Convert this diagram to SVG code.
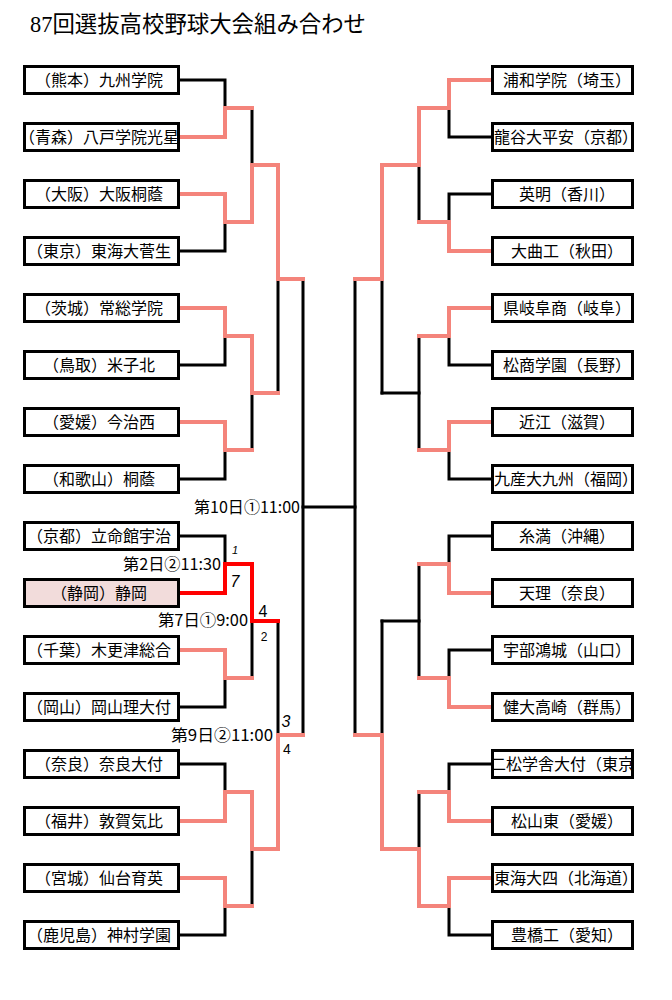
<svg xmlns="http://www.w3.org/2000/svg" width="672" height="1000" viewBox="0 0 672 1000">
<defs>
<style>
.bg{fill:#fff}
.box{fill:#fff;stroke:#000;stroke-width:3}
.hl{fill:#F2DCDB}
.t{font-family:"Noto Sans CJK JP","Noto Sans CJK SC",sans-serif;font-size:16px;fill:#000;text-anchor:middle}
.ln{fill:none;stroke-width:3;stroke-linecap:square;stroke-linejoin:miter}
.k{stroke:#000}
.c{stroke:#F4847B;stroke-width:4}
.r{stroke:#FF0000;stroke-width:4}
.lbl{font-family:"Noto Sans CJK JP",sans-serif;font-size:16px;fill:#000;text-anchor:end}
.sc{font-family:"Liberation Sans",sans-serif;fill:#000;text-anchor:middle}
.title{font-family:"Liberation Serif","Noto Sans CJK JP",serif;font-size:23px;fill:#000}
</style>
<clipPath id="clipL"><rect x="25" y="0" width="154" height="1000"/></clipPath>
<clipPath id="clipR"><rect x="494" y="0" width="139" height="1000"/></clipPath>
</defs>
<rect class="bg" x="0" y="0" width="672" height="1000"/>
<text class="title" x="30" y="32" textLength="336" lengthAdjust="spacingAndGlyphs">87回選抜高校野球大会組み合わせ</text>

<g id="connectors">
<g class="ln k">
<path d="M180,80 H225 V108"/>
<path d="M180,251 H225 V222"/>
<path d="M252,108 V165"/>
<path d="M180,365 H225 V336"/>
<path d="M180,479 H225 V450"/>
<path d="M252,450 V393"/>
<path d="M278,393 V279"/>
<path d="M303,279 V735"/>
<path d="M303,507 H355"/>
<path d="M180,536 H225 V564"/>
<path d="M180,707 H225 V678"/>
<path d="M252,678 V621"/>
<path d="M180,764 H225 V792"/>
<path d="M180,935 H225 V906"/>
<path d="M252,906 V849"/>
<path d="M278,621 V735"/>
<path d="M491,137 H449 V108"/>
<path d="M491,194 H449 V222"/>
<path d="M419,222 V165"/>
<path d="M491,365 H449 V336"/>
<path d="M491,479 H449 V450"/>
<path d="M419,336 V450"/>
<path d="M419,393 H382"/>
<path d="M382,393 V279"/>
<path d="M355,279 V735"/>
<path d="M491,536 H449 V564"/>
<path d="M491,650 H449 V678"/>
<path d="M419,564 V678"/>
<path d="M419,621 H382"/>
<path d="M491,764 H449 V792"/>
<path d="M491,935 H449 V906"/>
<path d="M419,792 V849"/>
<path d="M382,621 V735"/>
</g>
<g class="ln c">
<path d="M180,137 H225 V108 H252"/>
<path d="M180,194 H225 V222 H252"/>
<path d="M252,222 V165 H278"/>
<path d="M180,308 H225 V336 H252"/>
<path d="M180,422 H225 V450 H252"/>
<path d="M252,336 V393 H278"/>
<path d="M278,165 V279 H303"/>
<path d="M180,650 H225 V678 H252"/>
<path d="M180,821 H225 V792 H252"/>
<path d="M180,878 H225 V906 H252"/>
<path d="M252,792 V849 H278"/>
<path d="M278,849 V735 H303"/>
<path d="M491,80 H449 V108 H419"/>
<path d="M491,251 H449 V222 H419"/>
<path d="M419,108 V165 H382"/>
<path d="M491,308 H449 V336 H419"/>
<path d="M491,422 H449 V450 H419"/>
<path d="M382,165 V279 H355"/>
<path d="M491,593 H449 V564 H419"/>
<path d="M491,707 H449 V678 H419"/>
<path d="M491,821 H449 V792 H419"/>
<path d="M491,878 H449 V906 H419"/>
<path d="M419,906 V849 H382"/>
<path d="M382,849 V735 H355"/>
</g>
<g class="ln r">
<path d="M180,593 H225 V564 H252"/>
<path d="M252,564 V621 H278"/>
</g>
</g>

<g id="labels">
<text class="lbl" x="300" y="513" textLength="106" lengthAdjust="spacingAndGlyphs">第10日①11:00</text>
<text class="lbl" x="221" y="570" textLength="98" lengthAdjust="spacingAndGlyphs">第2日②11:30</text>
<text class="lbl" x="248" y="626" textLength="90" lengthAdjust="spacingAndGlyphs">第7日①9:00</text>
<text class="lbl" x="273" y="741" textLength="102" lengthAdjust="spacingAndGlyphs">第9日②11:00</text>
<text class="sc" x="235" y="554" font-size="11" font-style="italic">1</text>
<text class="sc" x="235" y="587" font-size="16" font-style="italic">7</text>
<text class="sc" x="263" y="617" font-size="16">4</text>
<text class="sc" x="264" y="641" font-size="12">2</text>
<text class="sc" x="286" y="727" font-size="16" font-style="italic">3</text>
<text class="sc" x="287" y="754" font-size="14">4</text>
</g>

<g id="L1"><rect class="box" x="24.5" y="66.5" width="154" height="27"/><text class="t" x="99" y="86" clip-path="url(#clipL)">（熊本）九州学院</text></g>
<g id="L2"><rect class="box" x="24.5" y="123.5" width="154" height="27"/><text class="t" x="99" y="143" clip-path="url(#clipL)">（青森）八戸学院光星</text></g>
<g id="L3"><rect class="box" x="24.5" y="180.5" width="154" height="27"/><text class="t" x="99" y="200" clip-path="url(#clipL)">（大阪）大阪桐蔭</text></g>
<g id="L4"><rect class="box" x="24.5" y="237.5" width="154" height="27"/><text class="t" x="99" y="257" clip-path="url(#clipL)">（東京）東海大菅生</text></g>
<g id="L5"><rect class="box" x="24.5" y="294.5" width="154" height="27"/><text class="t" x="99" y="314" clip-path="url(#clipL)">（茨城）常総学院</text></g>
<g id="L6"><rect class="box" x="24.5" y="351.5" width="154" height="27"/><text class="t" x="99" y="371" clip-path="url(#clipL)">（鳥取）米子北</text></g>
<g id="L7"><rect class="box" x="24.5" y="408.5" width="154" height="27"/><text class="t" x="99" y="428" clip-path="url(#clipL)">（愛媛）今治西</text></g>
<g id="L8"><rect class="box" x="24.5" y="465.5" width="154" height="27"/><text class="t" x="99" y="485" clip-path="url(#clipL)">（和歌山）桐蔭</text></g>
<g id="L9"><rect class="box" x="24.5" y="522.5" width="154" height="27"/><text class="t" x="99" y="542" clip-path="url(#clipL)">（京都）立命館宇治</text></g>
<g id="L10"><rect class="box hl" x="24.5" y="579.5" width="154" height="27"/><text class="t" x="99" y="599" clip-path="url(#clipL)">（静岡）静岡</text></g>
<g id="L11"><rect class="box" x="24.5" y="636.5" width="154" height="27"/><text class="t" x="99" y="656" clip-path="url(#clipL)">（千葉）木更津総合</text></g>
<g id="L12"><rect class="box" x="24.5" y="693.5" width="154" height="27"/><text class="t" x="99" y="713" clip-path="url(#clipL)">（岡山）岡山理大付</text></g>
<g id="L13"><rect class="box" x="24.5" y="750.5" width="154" height="27"/><text class="t" x="99" y="770" clip-path="url(#clipL)">（奈良）奈良大付</text></g>
<g id="L14"><rect class="box" x="24.5" y="807.5" width="154" height="27"/><text class="t" x="99" y="827" clip-path="url(#clipL)">（福井）敦賀気比</text></g>
<g id="L15"><rect class="box" x="24.5" y="864.5" width="154" height="27"/><text class="t" x="99" y="884" clip-path="url(#clipL)">（宮城）仙台育英</text></g>
<g id="L16"><rect class="box" x="24.5" y="921.5" width="154" height="27"/><text class="t" x="99" y="941" clip-path="url(#clipL)">（鹿児島）神村学園</text></g>

<g id="R1"><rect class="box" x="492.5" y="66.5" width="140" height="27"/><text class="t" x="567" y="86" clip-path="url(#clipR)">浦和学院（埼玉）</text></g>
<g id="R2"><rect class="box" x="492.5" y="123.5" width="140" height="27"/><text class="t" x="566" y="143" clip-path="url(#clipR)">龍谷大平安（京都）</text></g>
<g id="R3"><rect class="box" x="492.5" y="180.5" width="140" height="27"/><text class="t" x="567" y="200" clip-path="url(#clipR)">英明（香川）</text></g>
<g id="R4"><rect class="box" x="492.5" y="237.5" width="140" height="27"/><text class="t" x="567" y="257" clip-path="url(#clipR)">大曲工（秋田）</text></g>
<g id="R5"><rect class="box" x="492.5" y="294.5" width="140" height="27"/><text class="t" x="567" y="314" clip-path="url(#clipR)">県岐阜商（岐阜）</text></g>
<g id="R6"><rect class="box" x="492.5" y="351.5" width="140" height="27"/><text class="t" x="567" y="371" clip-path="url(#clipR)">松商学園（長野）</text></g>
<g id="R7"><rect class="box" x="492.5" y="408.5" width="140" height="27"/><text class="t" x="567" y="428" clip-path="url(#clipR)">近江（滋賀）</text></g>
<g id="R8"><rect class="box" x="492.5" y="465.5" width="140" height="27"/><text class="t" x="566" y="485" clip-path="url(#clipR)">九産大九州（福岡）</text></g>
<g id="R9"><rect class="box" x="492.5" y="522.5" width="140" height="27"/><text class="t" x="567" y="542" clip-path="url(#clipR)">糸満（沖縄）</text></g>
<g id="R10"><rect class="box" x="492.5" y="579.5" width="140" height="27"/><text class="t" x="567" y="599" clip-path="url(#clipR)">天理（奈良）</text></g>
<g id="R11"><rect class="box" x="492.5" y="636.5" width="140" height="27"/><text class="t" x="567" y="656" clip-path="url(#clipR)">宇部鴻城（山口）</text></g>
<g id="R12"><rect class="box" x="492.5" y="693.5" width="140" height="27"/><text class="t" x="567" y="713" clip-path="url(#clipR)">健大高崎（群馬）</text></g>
<g id="R13"><rect class="box" x="492.5" y="750.5" width="140" height="27"/><text class="t" x="570" y="770" clip-path="url(#clipR)">二松学舎大付（東京）</text></g>
<g id="R14"><rect class="box" x="492.5" y="807.5" width="140" height="27"/><text class="t" x="567" y="827" clip-path="url(#clipR)">松山東（愛媛）</text></g>
<g id="R15"><rect class="box" x="492.5" y="864.5" width="140" height="27"/><text class="t" x="566" y="884" clip-path="url(#clipR)">東海大四（北海道）</text></g>
<g id="R16"><rect class="box" x="492.5" y="921.5" width="140" height="27"/><text class="t" x="567" y="941" clip-path="url(#clipR)">豊橋工（愛知）</text></g>
</svg>
